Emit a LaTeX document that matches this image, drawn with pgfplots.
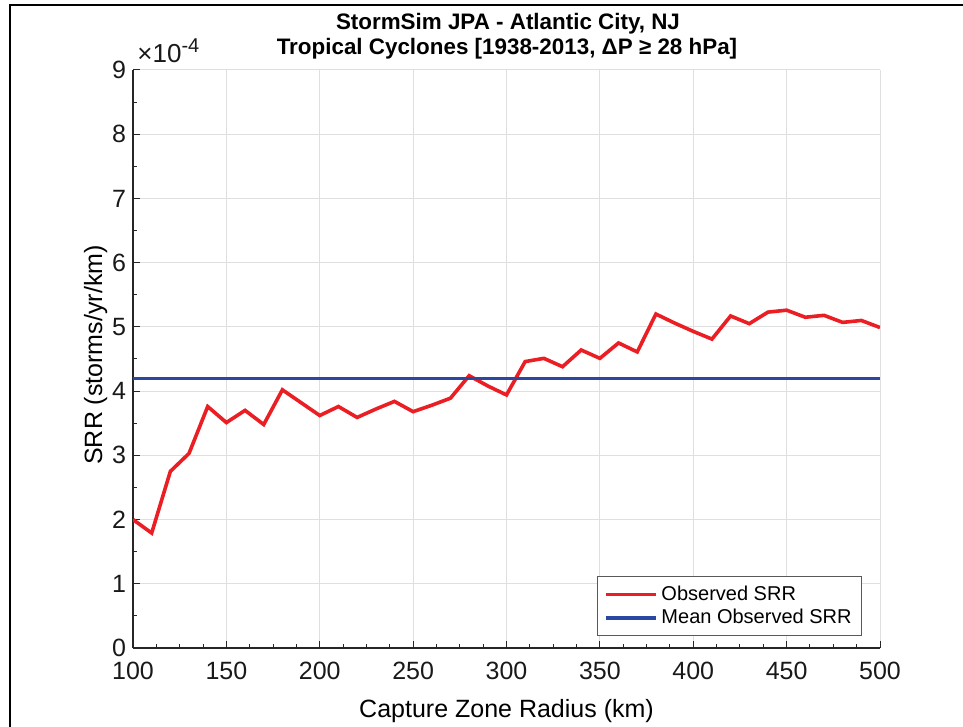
\documentclass[border=0pt]{standalone}
\usepackage{fontspec}
\setmainfont{Liberation Sans}
\usepackage{pgfplots}
\pgfplotsset{compat=1.18}

\definecolor{obsred}{RGB}{235,30,36}
\definecolor{meanblue}{RGB}{42,72,160}
\definecolor{axgray}{RGB}{38,38,38}

\begin{document}
\begin{tikzpicture}
\useasboundingbox (-66.5pt,-39.5pt) rectangle (415pt,324pt);
% figure frame (left and top edges)
\draw[black, line width=1.3pt] (-61.5pt,-40pt) -- (-61.5pt,321.5pt) -- (416pt,321.5pt);

\begin{axis}[
  scale only axis,
  width=373.5pt, height=289pt,
  xmin=100, xmax=500, ymin=0, ymax=9,
  xtick={100,150,...,500}, ytick={0,1,...,9},
  minor x tick num=3, minor y tick num=1,
  axis x line*=bottom, axis y line*=left,
  axis line style={-, axgray, line width=0.6pt},
  tick align=inside,
  major tick length=3.7pt, minor tick length=2.2pt,
  every tick/.style={axgray, line width=0.5pt},
  grid=major,
  major grid style={gray!25, line width=0.5pt},
  /pgf/number format/assume math mode=true,
  ticklabel style={font=\fontsize{12.5}{14}\selectfont, text=black!90},
  xticklabel style={inner ysep=0pt, yshift=-6.8pt},
  yticklabel style={inner ysep=0pt},
  legend style={
    at={(rel axis cs:0.976,0.02)}, anchor=south east,
    font=\fontsize{10}{12}\selectfont,
    draw=gray!70!black, line width=0.5pt,
    inner xsep=3pt, inner ysep=2.6pt,
    row sep=-1pt,
  },
  legend cell align=left,
  legend image code/.code={\draw[#1] (0pt,0pt) -- (25pt,0pt);},
]
\addplot[obsred, line width=1.8pt, line join=miter, miter limit=3] coordinates {
  (100,2.00) (110,1.79) (120,2.75) (130,3.03) (140,3.76) (150,3.51)
  (160,3.70) (170,3.48) (180,4.02) (190,3.82) (200,3.62) (210,3.76)
  (220,3.59) (230,3.72) (240,3.84) (250,3.68) (260,3.78) (270,3.89)
  (280,4.24) (290,4.08) (300,3.94) (310,4.46) (320,4.51) (330,4.38)
  (340,4.64) (350,4.51) (360,4.75) (370,4.61) (380,5.20) (390,5.06)
  (400,4.93) (410,4.81) (420,5.17) (430,5.05) (440,5.23) (450,5.26)
  (460,5.15) (470,5.18) (480,5.07) (490,5.10) (500,4.99)
};
\addlegendentry{Observed SRR}
\addplot[meanblue, line width=1.8pt] coordinates {(100,4.197) (500,4.197)};
\addlegendentry{Mean Observed SRR}
\end{axis}

% exponent of the y axis
\node[anchor=base west, inner sep=0pt, text=black!90] at (2pt,292.5pt)
  {\fontsize{13}{15}\selectfont ×10\raisebox{0.75ex}{\fontsize{10}{12}\selectfont -4}};

% title
\node[anchor=base, inner sep=0pt] at (187.5pt,309pt)
  {\fontsize{11.2}{13}\selectfont\bfseries StormSim JPA - Atlantic City, NJ};
\node[anchor=base, inner sep=0pt] at (187pt,296.5pt)
  {\fontsize{11.2}{13}\selectfont\bfseries Tropical Cyclones [1938-2013, ΔP ≥ 28 hPa]};

% axis labels
\node[anchor=base, inner sep=0pt] at (186.75pt,-34.5pt)
  {\fontsize{12.5}{14}\selectfont Capture Zone Radius (km)};
\node[anchor=base, rotate=90, inner sep=0pt] at (-15.5pt,146.5pt)
  {\fontsize{12.5}{14}\selectfont SRR (storms/yr/km)};
\end{tikzpicture}
\end{document}
